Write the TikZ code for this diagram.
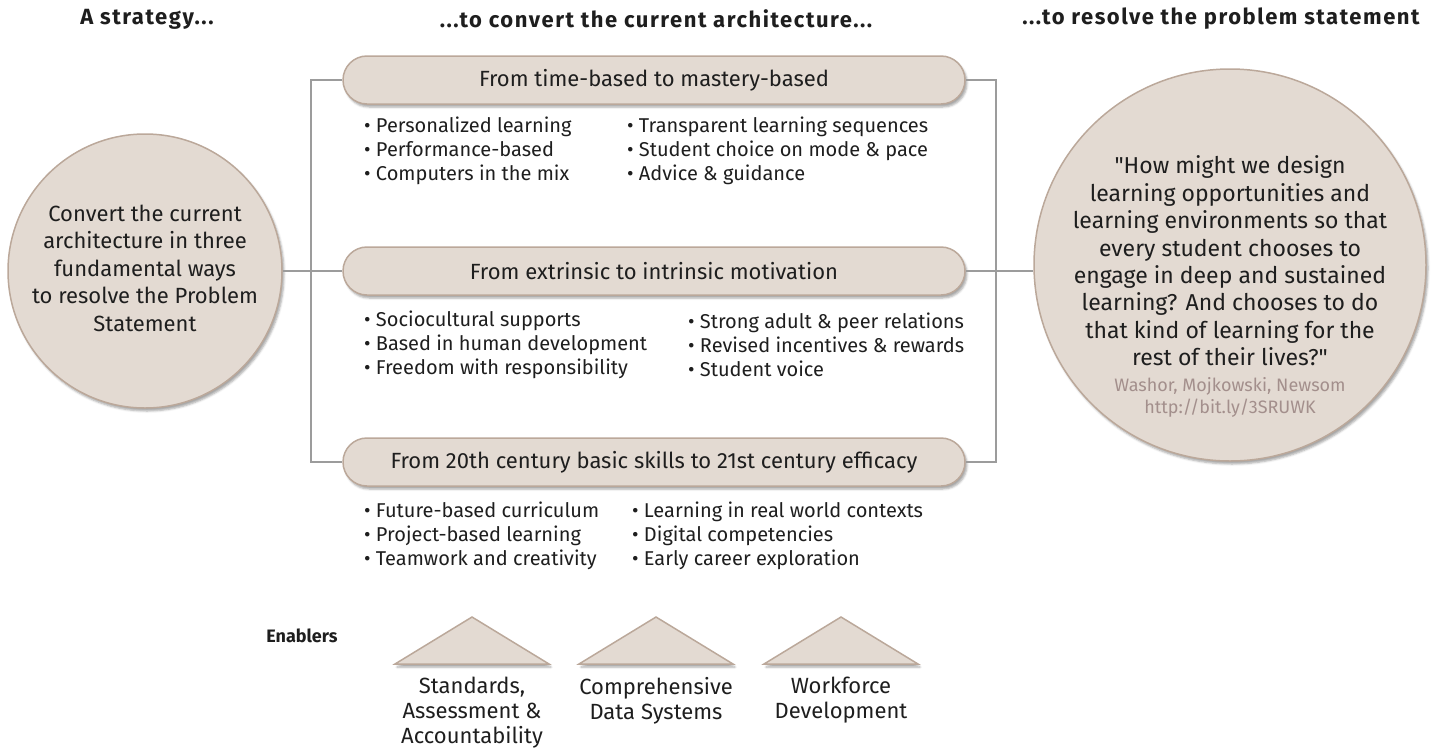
\documentclass[tikz,border=0pt]{standalone}
\usepackage{fontspec}
\setmainfont{Fira Sans}
\usetikzlibrary{positioning,shadows.blur}
\definecolor{sand}{HTML}{E3DAD2}
\definecolor{sandedge}{HTML}{BBA89A}
\definecolor{wire}{HTML}{9C9C9C}
\definecolor{ink}{HTML}{1E1E1E}
\definecolor{cite}{HTML}{A38F8C}
\begin{document}
\begin{tikzpicture}[x=1pt,y=-1pt,
	every node/.style={text=ink},
	head/.style={font=\fontsize{22}{25}\selectfont\bfseries\addfontfeature{LetterSpace=7}},
	bubble/.style={circle,draw=sandedge,line width=1.5pt,fill=sand,blur shadow={shadow xshift=2pt,shadow yshift=-3pt,shadow opacity=35}},
	pill/.style={rectangle,rounded corners=24pt,draw=sandedge,line width=1.5pt,fill=sand,minimum width=622pt,minimum height=48pt,font=\fontsize{22}{26}\selectfont,blur shadow={shadow xshift=2pt,shadow yshift=-3pt,shadow opacity=35}},
	items/.style={align=left,anchor=west,inner sep=0pt,font=\fontsize{20}{24}\selectfont},
	wedge/.style={draw=sandedge,line width=1.5pt,fill=sand,blur shadow={shadow xshift=2pt,shadow yshift=-3pt,shadow opacity=35}},
	caption/.style={align=center,anchor=north,inner sep=0pt,font=\fontsize{22}{25}\selectfont},
	link/.style={draw=wire,line width=1.6pt}]
	\useasboundingbox (0,0) rectangle (1440,753);
	\node[head] (h1) at (147,19) {A strategy...};
	\node[head] (h2) at (656,19) {...to convert the current architecture...};
	\node[head] (h3) at (1221,19) {...to resolve the problem statement};

	\node[bubble,minimum size=274pt] (strat) at (145,271) {};
	\node[align=center,font=\fontsize{22}{27.5}\selectfont] (strattext) at (145,268) {Convert the current\\architecture in three\\fundamental ways\\to resolve the Problem\\Statement};

	\node[pill] (p1) at (654,80) {From time-based to mastery-based};
	\node[pill] (p2) at (654,271) {From extrinsic to intrinsic motivation};
	\node[pill] (p3) at (654,462) {From 20th century basic skills to 21st century efficacy};

	\node[items] (l1) at (364,151) {• Personalized learning\\• Performance-based\\• Computers in the mix};
	\node[items] (r1) at (627,151) {• Transparent learning sequences\\• Student choice on mode \& pace\\• Advice \& guidance};
	\node[items] (l2) at (364,345) {• Sociocultural supports\\• Based in human development\\• Freedom with responsibility};
	\node[items] (r2) at (688,345) {• Strong adult \& peer relations\\• Revised incentives \& rewards\\• Student voice};
	\node[items] (l3) at (364,536) {• Future-based curriculum\\• Project-based learning\\• Teamwork and creativity};
	\node[items] (r3) at (632,536) {• Learning in real world contexts\\• Digital competencies\\• Early career exploration};

	\node[bubble,minimum size=392pt] (res) at (1230,265) {};
	\node[align=center,font=\fontsize{23}{27.4}\selectfont] (quote) at (1230,261) {\textquotedbl How might we design\\learning opportunities and\\learning environments so that\\every student chooses to\\engage in deep and sustained\\learning? And chooses to do\\that kind of learning for the\\rest of their lives?\textquotedbl};
	\node[align=center,text=cite,font=\fontsize{18}{22}\selectfont] (src) at (1230,397) {Washor, Mojkowski, Newsom\\http://bit.ly/3SRUWK};

	\draw[link] (p1.west) -- ++(-31,0) |- (p3.west);
	\draw[link] (strat.east) -- (p2.west);
	\draw[link] (p1.east) -- ++(30,0) |- (p3.east);
	\draw[link] (p2.east) -- (p2.east -| res.west);

	\node[font=\fontsize{18}{22}\selectfont\bfseries] (enab) at (302,636) {Enablers};
	\draw[wedge] (395,664) -- (472,617) -- (549,664) -- cycle;
	\draw[wedge] (579,664) -- (656,617) -- (733,664) -- cycle;
	\draw[wedge] (764,664) -- (841,617) -- (918,664) -- cycle;
	\node[caption] (e1) at (472,677) {Standards,\\Assessment \&\\Accountability};
	\node[caption] (e2) at (656,677) {Comprehensive\\Data Systems};
	\node[caption] (e3) at (841,677) {Workforce\\Development};
\end{tikzpicture}
\end{document}
